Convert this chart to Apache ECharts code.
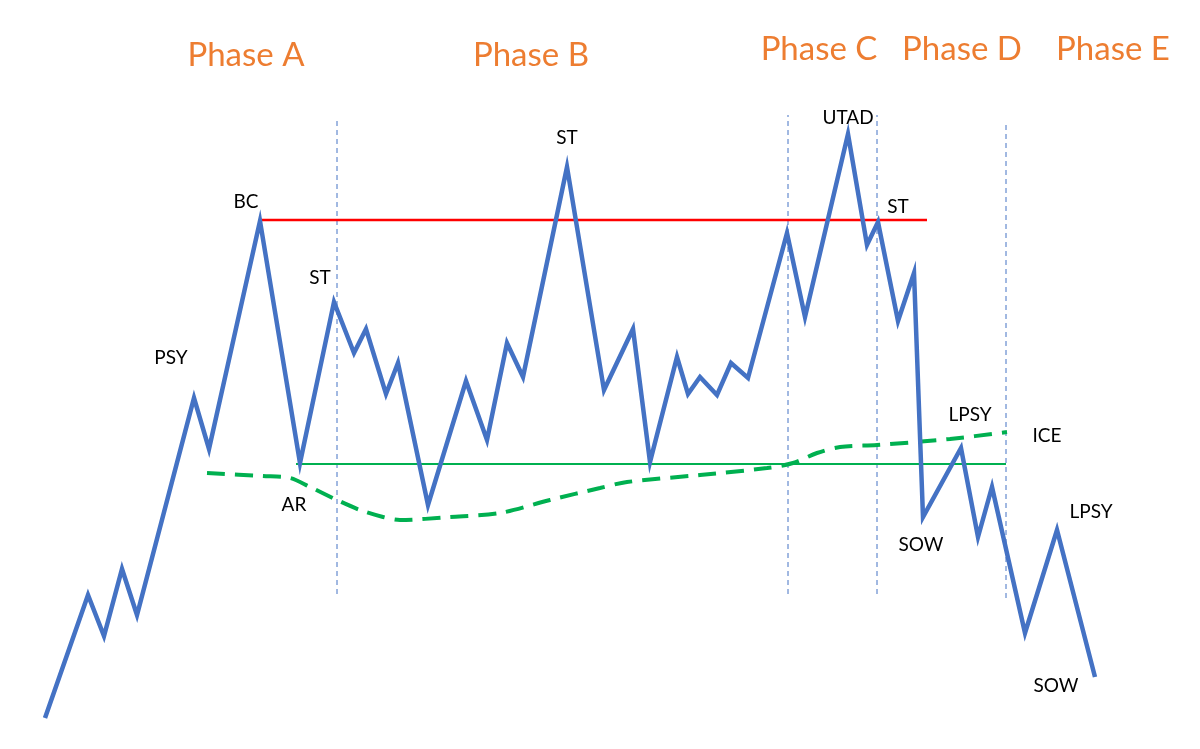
<!DOCTYPE html>
<html>
<head>
<meta charset="utf-8">
<script src="https://cdn.jsdelivr.net/npm/echarts@6/dist/echarts.min.js"></script>
<style>
  html, body { margin: 0; padding: 0; background: #fff; }
  #chart { width: 1200px; height: 749px; }
</style>
</head>
<body>
<div id="chart"></div>
<script>
// price path (time, price)
const priceTime = [45, 88, 104, 122, 137, 194, 209, 260, 300, 334, 354, 366, 386, 398, 428, 466, 487, 507, 523, 567, 604, 633, 650, 677, 688, 700, 717, 731, 748, 787, 805, 848, 867, 878, 898, 914, 923, 961, 978, 992, 1025, 1057, 1095];
const priceValue = [31, 154, 113, 180, 134, 351, 300, 528, 286, 447, 396, 420, 355, 386, 244, 368, 309, 406, 372, 582, 359, 420, 287, 392, 355, 372, 354, 386, 371, 516, 432, 615, 504, 527, 428, 476, 232, 301, 212, 262, 116, 219, 72];

// resistance / support
const resistance = { from: 260, to: 927, value: 529 };
const support = { from: 296, to: 1006, value: 285 };

// dashed trend curve
const trendTime = [207, 263, 290, 310, 337, 360, 383, 400, 450, 500, 550, 600, 627, 700, 767, 793, 817, 840, 877, 950, 1007];
const trendValue = [276, 273, 271, 262, 249, 239, 232, 229, 232, 236, 249, 261, 267, 274, 281, 286, 296, 302, 304, 310, 317];

// phase separators
const dividerTime = [337, 788, 877, 1006];
const dividerLow = [155, 155, 155, 151];
const dividerHigh = [631, 634, 634, 627];

// event labels
const eventNames = ['PSY', 'BC', 'ST', 'AR', 'ST', 'UTAD', 'ST', 'LPSY', 'ICE', 'SOW', 'LPSY', 'SOW'];
const eventTime = [171, 246, 320, 294, 567, 848, 898, 970, 1047, 921, 1091, 1056];
const eventValue = [391, 547, 471, 244, 611, 631, 542, 334, 313, 204, 237, 63];

// phase titles
const phaseNames = ['Phase A', 'Phase B', 'Phase C', 'Phase D', 'Phase E'];
const phaseTime = [246, 531, 819, 962, 1113];
const phaseValue = [694, 694, 700, 700, 700];

const zip = (a, b) => a.map((v, i) => [v, b[i]]);

const chart = echarts.init(document.getElementById('chart'));

const dividerSeries = dividerTime.map((t, i) => ({
  type: 'line',
  data: [[t, dividerLow[i]], [t, dividerHigh[i]]],
  symbol: 'none',
  silent: true,
  lineStyle: { color: '#4472C4', width: 1, type: [5, 4] },
  z: 1,
}));

const textSeries = (names, times, values, color, size) => ({
  type: 'scatter',
  data: names.map((n, i) => ({ name: n, value: [times[i], values[i]] })),
  symbolSize: 0,
  itemStyle: { opacity: 1 },
  label: {
    show: true,
    position: 'inside',
    formatter: '{b}',
    color: color,
    opacity: 1,
    fontSize: size,
    fontFamily: 'Lato, "Open Sans", sans-serif',
  },
  z: 4,
});

chart.setOption({
  animation: false,
  grid: { left: 0, right: 0, top: 0, bottom: 0 },
  xAxis: { type: 'value', min: 0, max: 1200, show: false },
  yAxis: { type: 'value', min: 0, max: 749, show: false },
  series: [
    ...dividerSeries,
    {
      type: 'line',
      data: [[resistance.from, resistance.value], [resistance.to, resistance.value]],
      symbol: 'none',
      lineStyle: { color: '#FF0000', width: 2.5 },
      z: 2,
    },
    {
      type: 'line',
      data: [[support.from, support.value], [support.to, support.value]],
      symbol: 'none',
      lineStyle: { color: '#00B050', width: 2 },
      z: 2,
    },
    {
      type: 'line',
      data: zip(trendTime, trendValue),
      symbol: 'none',
      smooth: 0.3,
      lineStyle: { color: '#00B050', width: 4, type: [18, 10] },
      z: 2,
    },
    {
      type: 'line',
      data: zip(priceTime, priceValue),
      symbol: 'none',
      lineStyle: { color: '#4472C4', width: 4.5, join: 'miter' },
      z: 3,
    },
    textSeries(eventNames, eventTime, eventValue, '#000000', 19),
    textSeries(phaseNames, phaseTime, phaseValue, '#ED7D31', 33),
  ],
});
</script>
</body>
</html>
